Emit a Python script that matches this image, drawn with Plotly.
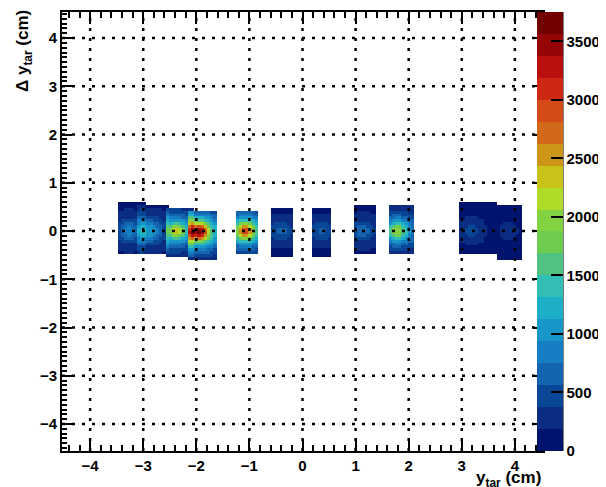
import numpy as np
import plotly.graph_objects as go

# ---------------- data ----------------
# histogram binning (cm)
x_edge_lo, x_edge_hi, x_bin = -4.5, 4.5, 0.06
y_edge_lo, y_edge_hi, y_bin = -4.5, 4.5, 0.06

# foil blobs: peak position, peak counts and acceptance rectangle
foil_xc   = [-3.26, -2.88, -2.38, -1.95, -1.08, -0.40, 0.36, 1.13, 1.78, 3.18, 3.88]
foil_yc   = [0.00, 0.00, 0.00, -0.02, 0.00, 0.00, 0.00, 0.00, 0.00, 0.00, 0.00]
foil_peak = [900, 1150, 2300, 3650, 3000, 650, 620, 720, 2100, 450, 280]
acc_xlo   = [-3.49, -3.15, -2.60, -2.15, -1.28, -0.58, 0.18, 0.93, 1.60, 2.91, 3.64]
acc_xhi   = [-2.95, -2.55, -2.05, -1.62, -0.86, -0.19, 0.56, 1.37, 2.08, 3.63, 4.13]
acc_ylo   = [-0.50, -0.46, -0.56, -0.60, -0.50, -0.54, -0.56, -0.50, -0.46, -0.46, -0.60]
acc_yhi   = [0.58, 0.52, 0.48, 0.44, 0.43, 0.47, 0.47, 0.52, 0.52, 0.61, 0.56]
base_counts = 70
core_sigma_x, core_sigma_y = 0.13, 0.12
halo_sigma_x, halo_sigma_y, halo_frac = 0.32, 0.30, 0.45

x_ticks = [-4, -3, -2, -1, 0, 1, 2, 3, 4]
y_ticks = [-4, -3, -2, -1, 0, 1, 2, 3, 4]
z_max = 3750
z_ticks = [0, 500, 1000, 1500, 2000, 2500, 3000, 3500]

# 20-level palette, bottom -> top
palette = [
    (0, 20, 110), (10, 45, 130), (10, 70, 150), (20, 100, 175), (20, 125, 195),
    (25, 150, 200), (30, 175, 200), (50, 190, 180), (80, 195, 130), (110, 205, 80),
    (130, 210, 65), (175, 220, 40), (200, 195, 25), (205, 150, 25), (210, 105, 25),
    (210, 75, 25), (205, 40, 20), (185, 15, 15), (150, 5, 5), (115, 0, 0),
]

# ---------------- build histogram ----------------
xc = np.arange(x_edge_lo + x_bin / 2, x_edge_hi, x_bin)
yc = np.arange(y_edge_lo + y_bin / 2, y_edge_hi, y_bin)
X, Y = np.meshgrid(xc, yc)
Z = np.zeros_like(X)
for i in range(len(foil_xc)):
    m = (X >= acc_xlo[i]) & (X <= acc_xhi[i]) & (Y >= acc_ylo[i]) & (Y <= acc_yhi[i])
    dx, dy = X - foil_xc[i], Y - foil_yc[i]
    core = np.exp(-dx**2 / (2 * core_sigma_x**2) - dy**2 / (2 * core_sigma_y**2))
    halo = np.exp(-dx**2 / (2 * halo_sigma_x**2) - dy**2 / (2 * halo_sigma_y**2))
    val = base_counts + (foil_peak[i] - base_counts) * ((1 - halo_frac) * core + halo_frac * halo)
    Z += np.where(m, val, 0.0)
Zp = np.where(Z > 0, Z, np.nan)

n = len(palette)
cscale = []
for k, c in enumerate(palette):
    col = "rgb(%d,%d,%d)" % c
    cscale.append([k / n, col])
    cscale.append([(k + 1) / n, col])

# ---------------- figure ----------------
# page body has an 8px margin, so the figure is drawn 8px smaller and offset
OFF = 8
W, H = 606 - OFF, 487 - OFF
L, R, T, B = 62 - OFF, 543 - OFF, 12 - OFF, 451 - OFF
font = dict(family="Liberation Sans, Arial, sans-serif", size=15, color="black", weight="bold")

fig = go.Figure()
fig.add_trace(go.Heatmap(
    x=xc, y=yc, z=Zp, zmin=0, zmax=z_max, colorscale=cscale, zsmooth=False,
    hoverinfo="skip",
    colorbar=dict(
        thickness=26, thicknessmode="pixels", lenmode="pixels", len=B - T,
        x=(537 - OFF - L) / (R - L), xanchor="left", xpad=0, y=0.5, yanchor="middle", ypad=0,
        outlinewidth=0, ticks="inside", ticklen=12, tickwidth=2, tickcolor="black",
        tickvals=z_ticks, tickformat="d", tickfont=font,
    ),
))

xr = [-4.53, 4.53]
yr = [-4.56, 4.54]
fig.update_xaxes(range=xr, tickvals=x_ticks, ticks="inside", ticklen=12, tickwidth=2,
                 tickcolor="black", showline=True, linewidth=2, linecolor="black",
                 mirror="ticks", showgrid=False, zeroline=False, tickfont=font,
                 minor=dict(dtick=0.2, tick0=0, ticks="inside", ticklen=6, tickwidth=2,
                            tickcolor="black", showgrid=False))
fig.update_yaxes(range=yr, tickvals=y_ticks, ticks="inside", ticklen=10, tickwidth=2,
                 tickcolor="black", showline=True, linewidth=2, linecolor="black",
                 mirror="ticks", showgrid=False, zeroline=False, tickfont=font,
                 minor=dict(dtick=0.1, tick0=0, ticks="inside", ticklen=5, tickwidth=2,
                            tickcolor="black", showgrid=False))

grid_line = dict(color="black", width=2.5, dash="3px,7px")
for v in x_ticks:
    fig.add_shape(type="line", xref="x", yref="y domain", x0=v, x1=v, y0=0, y1=1,
                  line=grid_line, layer="above")
for v in y_ticks:
    fig.add_shape(type="line", xref="x domain", yref="y", x0=0, x1=1, y0=v, y1=v,
                  line=grid_line, layer="above")
# colorbar right edge line
cb_right = (562.5 - OFF - L) / (R - L)
fig.add_shape(type="line", xref="paper", yref="paper", x0=cb_right, x1=cb_right, y0=0, y1=1,
              line=dict(color="black", width=2), layer="above")

tfont = dict(family="Liberation Sans, Arial, sans-serif", size=17, color="black", weight="bold")
fig.add_annotation(text="y<sub>tar</sub> (cm)", xref="paper", yref="paper",
                   x=1.0, xanchor="right", y=(451 - 479) / (B - T), yanchor="middle",
                   showarrow=False, font=tfont)
fig.add_annotation(text="Δ y<sub>tar</sub> (cm)", xref="paper", yref="paper",
                   x=(24 - 62) / (R - L), xanchor="center", y=(451 - 8) / (B - T), yanchor="top",
                   textangle=-90, showarrow=False, font=tfont)

fig.update_layout(width=W, height=H,
                  margin=dict(l=L, r=W - R, t=T, b=H - B, autoexpand=False),
                  paper_bgcolor="white", plot_bgcolor="white", showlegend=False)
fig.write_html("out.html")
